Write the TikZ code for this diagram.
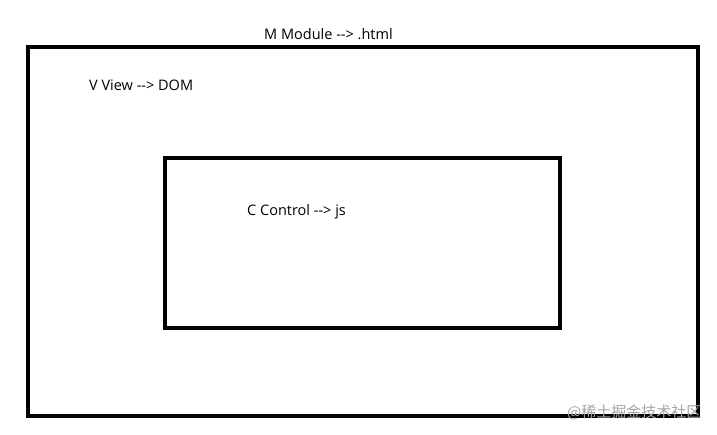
\documentclass[tikz,border=0pt]{standalone}
\usepackage{fontspec}
\setmainfont{Open Sans}
\newfontfamily\cjk{Noto Sans CJK SC}
\begin{document}
\begin{tikzpicture}[x=1pt,y=-1pt,
  box/.style={draw=black,line width=4.5pt},
  lbl/.style={anchor=base west,inner sep=0pt,font=\fontsize{14.5}{16}\selectfont},
  wm/.style={anchor=base west,inner sep=0pt,text=black!35,font=\cjk\fontsize{15}{17}\selectfont}]
\useasboundingbox[fill=white] (0,0) rectangle (717,435);
\draw[box] (28,47) rectangle (698,416);
\draw[box] (165,158) rectangle (560,328);
\node[lbl] (m) at (264,40) {M Module -{}-> .html};
\node[lbl] (v) at (89,91) {V View -{}-> DOM};
\node[lbl] (c) at (247,216) {C Control -{}-> js};
\node[wm] (w) at (567,417) {@稀土掘金技术社区};
\end{tikzpicture}
\end{document}
